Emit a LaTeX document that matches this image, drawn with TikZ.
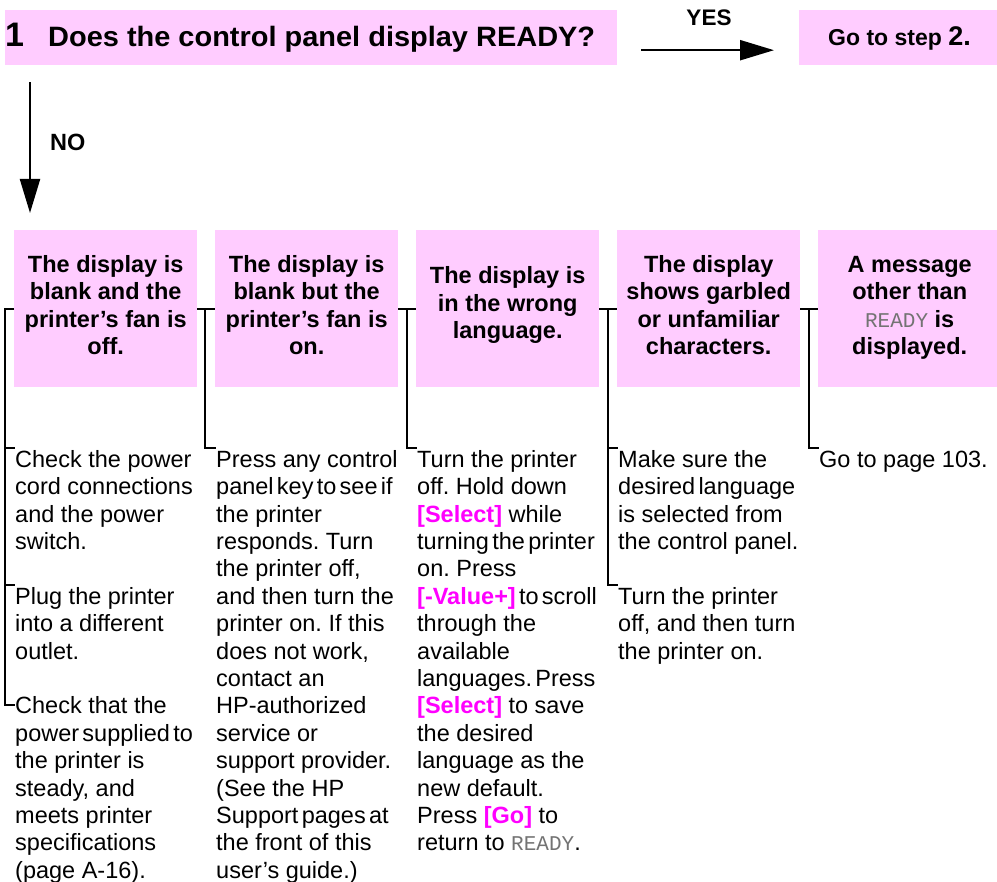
\documentclass[tikz,border=0pt]{standalone}
\usepackage{fontspec}
\setmainfont{Liberation Sans}
\newfontfamily\lcdfont{Liberation Mono}
\usepackage{graphicx}
\usetikzlibrary{arrows.meta}
\definecolor{pinkbox}{HTML}{FFCCFF}
\definecolor{keymag}{HTML}{FF00FF}
\newcommand{\lcd}[1]{{\lcdfont\mdseries\fontsize{21}{21}\selectfont\color{black!55}#1}}
\newcommand{\keyname}[1]{{\bfseries\color{keymag}#1}}
\newcommand{\tightline}[1]{{\spaceskip=0.14em\relax #1}}
\frenchspacing
\begin{document}
\frenchspacing
\begin{tikzpicture}[x=1pt,y=-1pt,
  pinkfill/.style={fill=pinkbox, draw=none, inner sep=0, anchor=north west},
  casebox/.style={pinkfill, minimum width=183pt, minimum height=157pt},
  casetext/.style={align=center, inner sep=0, font=\bfseries\fontsize{23.5}{27.4}\selectfont},
  item/.style={font=\fontsize{23.5}{27.4}\selectfont, align=left, anchor=north west, inner sep=0},
  conn/.style={line width=2.2pt},
  arr/.style={line width=2.2pt, -{Triangle[length=34pt,width=20pt]}},
]
\useasboundingbox (0,0) rectangle (997,882);

% header
\node[pinkfill, minimum width=612pt, minimum height=55pt] (hdr) at (5,10) {};
\node[anchor=base west, inner sep=0, font=\bfseries\fontsize{34}{34}\selectfont] (num) at (5,47) {1};
\node[anchor=base west, inner sep=0, font=\bfseries\fontsize{28}{28}\selectfont] (q) at (48,47)
  {\scalebox{1.034}[1]{Does the control panel display READY?}};

\node[pinkfill, minimum width=201pt, minimum height=55pt] (go) at (799,10) {};
\node[anchor=base, inner sep=0, font=\bfseries\fontsize{23}{23}\selectfont] (gotxt) at (899.5,46)
  {Go to step {\fontsize{27}{27}\selectfont 2.}};

\node[anchor=base, inner sep=0, font=\bfseries\fontsize{22.5}{22.5}\selectfont] (yes) at (709,26) {YES};
\draw[arr] ([shift={(24,12.5)}]hdr.east) -- ([shift={(-25,12.5)}]go.west);

% case boxes
\node[casebox] (b1) at (14,230) {};
\node[casebox] (b2) at (215,230) {};
\node[casebox] (b3) at (416,230) {};
\node[casebox] (b4) at (617,230) {};
\node[casebox] (b5) at (818,230) {};
\node[casetext] (t1) at ([yshift=3.5pt]b1.center) {The display is\\blank and the\\printer’s fan is\\off.};
\node[casetext] (t2) at ([yshift=3.5pt]b2.center) {The display is\\blank but the\\printer’s fan is\\on.};
\node[casetext] (t3) at ([yshift=3.5pt]b3.center) {The display is\\in the wrong\\language.};
\node[casetext] (t4) at ([yshift=3.5pt]b4.center) {The display\\shows garbled\\or unfamiliar\\characters.};
\node[casetext] (t5) at ([yshift=1pt]b5.center) {A message\\other than\\\lcd{READY} is\\displayed.};

\node[anchor=base west, inner sep=0, font=\bfseries\fontsize{23.5}{23.5}\selectfont] (no) at (50,151) {NO};
\draw[arr] ([shift={(25,17)}]hdr.south west) -- ([shift={(16,-17)}]b1.north west);

% items
\node[item] (c1a) at (15,448) {\strut Check the power\\cord connections\\and the power\\switch.};
\node[item] (c1b) at (15,585) {\strut Plug the printer\\into a different\\outlet.};
\node[item] (c1c) at (15,694.6) {\strut Check that the\\\tightline{power supplied to}\\the printer is\\steady, and\\meets printer\\specifications\\(page A-16).};
\node[item] (c2a) at (216,448) {\strut Press any control\\\tightline{panel key to see if}\\the printer\\responds. Turn\\the printer off,\\and then turn the\\printer on. If this\\does not work,\\contact an\\HP-authorized\\service or\\support provider.\\(See the HP\\\tightline{Support pages at}\\the front of this\\user’s guide.)};
\node[item] (c3a) at (417,448) {\strut Turn the printer\\off. Hold down\\\keyname{[Select]} while\\\tightline{turning the printer}\\on. Press\\\tightline{\keyname{[-Value+]} to scroll}\\through the\\available\\\tightline{languages. Press}\\\keyname{[Select]} to save\\the desired\\language as the\\new default.\\Press \keyname{[Go]} to\\return to \lcd{READY}.};
\node[item] (c4a) at (618,448) {\strut Make sure the\\\tightline{desired language}\\is selected from\\the control panel.};
\node[item] (c4b) at (618,585) {\strut Turn the printer\\off, and then turn\\the printer on.};
\node[item] (c5a) at (819,448) {\strut Go to page 103.};

% bracket rails
\coordinate (r1) at (5,0);
\coordinate (r2) at (205,0);
\coordinate (r3) at (407,0);
\coordinate (r4) at (608,0);
\coordinate (r5) at (809,0);

\draw[conn] (b1.west) -- (b1.west -| r1) -- (r1 |- c1c.north west) -- ++(0,10) -- ([yshift=-10pt]c1c.north west);
\draw[conn] (r1 |- c1a.north west) -- (c1a.north west);
\draw[conn] (r1 |- c1b.north west) -- (c1b.north west);

\draw[conn] (b1.east) -- (b2.west);
\draw[conn] (b1.east -| r2) |- (c2a.north west);

\draw[conn] (b2.east) -- (b3.west);
\draw[conn] (b2.east -| r3) |- (c3a.north west);

\draw[conn] (b3.east) -- (b4.west);
\draw[conn] (b3.east -| r4) |- (c4b.north west);
\draw[conn] (r4 |- c4a.north west) -- (c4a.north west);

\draw[conn] (b4.east) -- (b5.west);
\draw[conn] (b4.east -| r5) |- (c5a.north west);
\end{tikzpicture}
\end{document}
